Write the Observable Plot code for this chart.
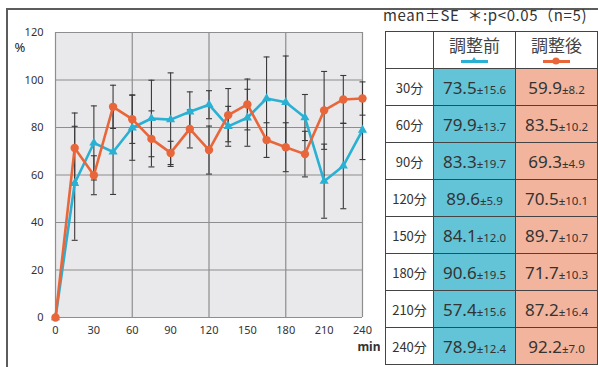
<!DOCTYPE html>
<html><head><meta charset="utf-8">
<script src="https://cdn.jsdelivr.net/npm/d3@7"></script>
<script src="https://cdn.jsdelivr.net/npm/@observablehq/plot@0.6"></script>
<style>
body{margin:0;background:#fff;}
#wrap{position:relative;width:598px;height:367px;overflow:hidden;font-family:"Noto Sans CJK JP","Noto Sans",sans-serif;color:#333;}
#frame{position:absolute;left:6px;top:8px;width:620px;height:420px;border-top:2px solid #5c5c5c;border-left:2px solid #5c5c5c;}
#chart{position:absolute;left:0;top:0;}
#title{position:absolute;left:383px;top:6px;font-size:15px;letter-spacing:0.6px;line-height:18px;white-space:nowrap;color:#333;}
#tbl{position:absolute;left:385px;top:31px;border-collapse:collapse;table-layout:fixed;}
#tbl td{border:1px solid #444;padding:0;text-align:center;vertical-align:middle;white-space:nowrap;}
#tbl tr{height:37px;}
#tbl tr.hd{height:37px;}
.lab{font-size:13px;background:#fff;}
.pre{background:#64c4d7;}
.post{background:#f2b49c;}
.big{font-family:"Noto Sans","Open Sans",sans-serif;font-size:17px;}
.sm{font-family:"Noto Sans","Open Sans",sans-serif;font-size:11.5px;}
.hname{font-size:17px;line-height:19px;display:block;margin-top:1px;color:#444;}
</style></head>
<body>
<div id="wrap">
  <div id="frame"></div>
  <div id="chart"></div>
  <div id="title">mean±SE&nbsp; ＊:p&lt;0.05（n=5)</div>
  <table id="tbl"></table>
</div>
<script>
// ---- data ----
const minutes   = [0,15,30,45,60,75,90,105,120,135,150,165,180,195,210,225,240];
const preMean   = [0,56.5,73.5,69.7,79.9,83.8,83.3,86.6,89.6,80.5,84.1,92.2,90.6,84.2,57.4,63.8,78.9];
const preSE     = [0,24.0,15.6,17.9,13.7,16.1,19.7,8.4,5.9,8.4,12.0,17.5,19.5,9.7,15.6,18.0,12.4];
const postMean  = [0,71.4,59.9,88.7,83.5,75.2,69.3,79.4,70.5,85.2,89.7,74.7,71.7,68.8,87.2,91.8,92.2];
const postSE    = [0,14.7,8.2,9.1,10.2,11.8,4.9,8.0,10.1,11.2,10.7,7.3,10.3,9.6,16.4,10.1,7.0];
const seriesNames = ["調整前","調整後"];
const yTicks = [0,20,40,60,80,100,120];
const xTicks = [0,30,60,90,120,150,180,210,240];
const xGrid  = [0,60,120,180,240];

const colors = {pre:"#29b0d3", post:"#e8663a"};

const pre  = minutes.map((t,i)=>({t, v:preMean[i],  se:preSE[i]}));
const post = minutes.map((t,i)=>({t, v:postMean[i], se:postSE[i]}));
const errs = [...pre, ...post].filter(d=>d.se>0);

const cap = {draw(ctx){ ctx.moveTo(-3,0); ctx.lineTo(3,0); }};
const font = '"Noto Sans", sans-serif';

const chart = Plot.plot({
  width: 380, height: 367,
  marginLeft: 55, marginRight: 18, marginTop: 32, marginBottom: 50,
  x: {domain:[0,240]},
  y: {domain:[0,120]},
  style: {fontFamily: font, fontSize:"11px", color:"#333", background:"transparent"},
  marks: [
    Plot.frame({fill:"#e9e9eb", stroke:null}),
    Plot.ruleY(yTicks, {stroke:"#8e8e8e", strokeWidth:1.2}),
    Plot.ruleX(xGrid, {stroke:"#8e8e8e", strokeWidth:1.2}),
    Plot.axisY({ticks:yTicks, tickSize:0, tickPadding:12, label:null, fontSize:11}),
    Plot.axisX({ticks:xTicks, tickSize:0, tickPadding:9, label:null, fontSize:11}),
    Plot.ruleX(errs, {x:"t", y1:d=>d.v-d.se, y2:d=>d.v+d.se, stroke:"#3a3a3a", strokeWidth:1.1}),
    Plot.dot(errs, {x:"t", y:d=>d.v+d.se, symbol:cap, stroke:"#3a3a3a", strokeWidth:1.1, r:3}),
    Plot.dot(errs, {x:"t", y:d=>d.v-d.se, symbol:cap, stroke:"#3a3a3a", strokeWidth:1.1, r:3}),
    Plot.line(pre, {x:"t", y:"v", stroke:colors.pre, strokeWidth:2.6}),
    Plot.dot(pre, {x:"t", y:"v", symbol:"triangle", fill:colors.pre, stroke:null, r:3.4}),
    Plot.line(post, {x:"t", y:"v", stroke:colors.post, strokeWidth:2.6}),
    Plot.dot(post, {x:"t", y:"v", symbol:"circle", fill:colors.post, stroke:null, r:4.2}),
    Plot.text(["%"], {frameAnchor:"top-left", dx:-41, dy:10, fontSize:13, fill:"#222"}),
    Plot.text(["min"], {frameAnchor:"bottom-right", dx:18, dy:33, textAnchor:"end", fontSize:12, fontWeight:"bold", fill:"#333"})
  ]
});
document.getElementById("chart").appendChild(chart);

// ---- table ----
const tbl = document.getElementById("tbl");
const colgroup = document.createElement("colgroup");
[48,82,82].forEach(w=>{const c=document.createElement("col"); c.style.width=w+"px"; colgroup.appendChild(c);});
tbl.appendChild(colgroup);

function legendSvg(color, sym){
  const s = sym==="triangle"
    ? `<path d="M13,1 L17,7 L9,7 Z" fill="${color}"/>`
    : `<circle cx="13" cy="5" r="3.6" fill="${color}"/>`;
  return `<svg width="27" height="10" style="display:block;margin:2px auto 0"><line x1="0" y1="5.5" x2="27" y2="5.5" stroke="${color}" stroke-width="3"/>${s}</svg>`;
}
const hr = document.createElement("tr"); hr.className="hd";
hr.innerHTML = `<td class="lab"></td>
<td><span class="hname">${seriesNames[0]}</span>${legendSvg(colors.pre,"triangle")}</td>
<td><span class="hname">${seriesNames[1]}</span>${legendSvg(colors.post,"circle")}</td>`;
tbl.appendChild(hr);

minutes.forEach((t,i)=>{
  if (t===0 || t%30!==0) return;
  const tr = document.createElement("tr");
  tr.innerHTML = `<td class="lab">${t}分</td>
  <td class="pre"><span class="big">${preMean[i].toFixed(1)}</span><span class="sm">±${preSE[i].toFixed(1)}</span></td>
  <td class="post"><span class="big">${postMean[i].toFixed(1)}</span><span class="sm">±${postSE[i].toFixed(1)}</span></td>`;
  tbl.appendChild(tr);
});
</script>
</body></html>
